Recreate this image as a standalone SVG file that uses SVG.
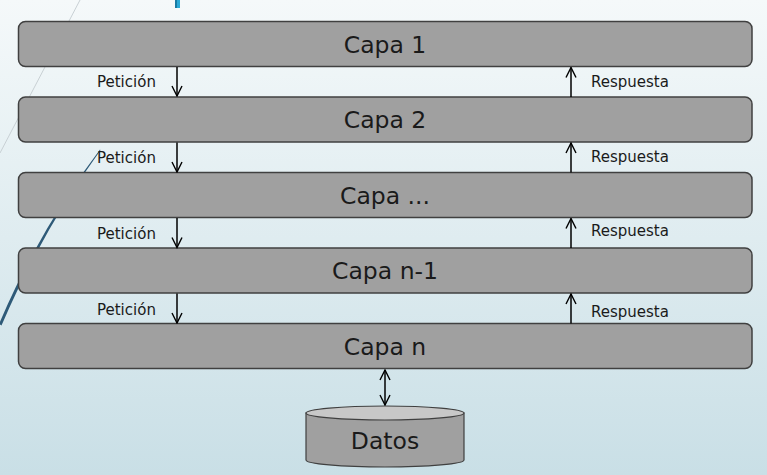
<svg xmlns="http://www.w3.org/2000/svg" width="767" height="475" viewBox="0 0 767 475">
<defs>
<linearGradient id="bg" x1="0" y1="0" x2="0" y2="1">
<stop offset="0" stop-color="#f5f9fa"/>
<stop offset="1" stop-color="#c9dfe6"/>
</linearGradient>
<marker id="ah" viewBox="0 0 12 12" refX="11" refY="6" markerWidth="12" markerHeight="12" markerUnits="userSpaceOnUse" orient="auto-start-reverse">
<path d="M1,1 L11,6 L1,11" fill="none" stroke="#000" stroke-width="1.4"/>
</marker>
</defs>
<style>
.box{fill:#a0a0a0;stroke:#404040;stroke-width:1.5}
.t{font-family:"DejaVu Sans","Liberation Sans",sans-serif;font-size:23.5px;fill:#1a1a1a;text-anchor:middle}
.l{font-family:"DejaVu Sans","Liberation Sans",sans-serif;font-size:15px;fill:#1a1a1a}
.c{stroke:#000;stroke-width:1.5;fill:none;marker-end:url(#ah)}
</style>
<rect width="767" height="475" fill="url(#bg)"/>
<path d="M80,0 L0,153" stroke="#c8d0d4" stroke-width="1" fill="none"/>
<path d="M100,149.5 Q39,230 -1,324 L1.5,325.5 Q42,231 100.5,150.3 Z" fill="#2e5a78"/>
<rect x="175" y="0" width="2" height="8" fill="#1a7aa3"/>
<rect x="177" y="0" width="3" height="8" fill="#2aa9d6"/>
<g id="capa1"><rect class="box" x="18.5" y="21.5" width="733.5" height="45" rx="7"/><text class="t" x="385" y="52.5">Capa 1</text></g>
<g id="capa2"><rect class="box" x="18.5" y="97" width="733.5" height="45" rx="7"/><text class="t" x="385" y="128">Capa 2</text></g>
<g id="capa3"><rect class="box" x="18.5" y="172.5" width="733.5" height="45" rx="7"/><text class="t" x="385" y="203.5">Capa ...</text></g>
<g id="capa4"><rect class="box" x="18.5" y="248" width="733.5" height="45" rx="7"/><text class="t" x="385" y="279">Capa n-1</text></g>
<g id="capa5"><rect class="box" x="18.5" y="323.5" width="733.5" height="45" rx="7"/><text class="t" x="385" y="354.5">Capa n</text></g>
<g id="datos">
<path d="M306,413 L306,460 A79,7 0 0 0 464,460 L464,413 Z" fill="#a0a0a0" stroke="#404040" stroke-width="1.2"/>
<ellipse cx="385" cy="413" rx="79" ry="7" fill="#c8c8c8" stroke="#404040" stroke-width="1.2"/>
<text class="t" x="385" y="448.5">Datos</text>
</g>
<g id="labels">
<text class="l" x="97" y="86.5">Petición</text>
<text class="l" x="97" y="162.5">Petición</text>
<text class="l" x="97" y="238.5">Petición</text>
<text class="l" x="97" y="314.5">Petición</text>
<text class="l" x="591" y="86.5">Respuesta</text>
<text class="l" x="591" y="161.5">Respuesta</text>
<text class="l" x="591" y="235.5">Respuesta</text>
<text class="l" x="591" y="316.5">Respuesta</text>
</g>
<g id="connectors">
<path class="c" d="M177,67 L177,96"/>
<path class="c" d="M177,142.5 L177,172"/>
<path class="c" d="M177,218 L177,247.5"/>
<path class="c" d="M177,293.5 L177,323"/>
<path class="c" d="M571,97 L571,67.5"/>
<path class="c" d="M571,172.5 L571,143"/>
<path class="c" d="M571,248 L571,218.5"/>
<path class="c" d="M571,323.5 L571,294"/>
<path class="c" d="M385,370 L385,405" marker-start="url(#ah)"/>
</g>
</svg>
